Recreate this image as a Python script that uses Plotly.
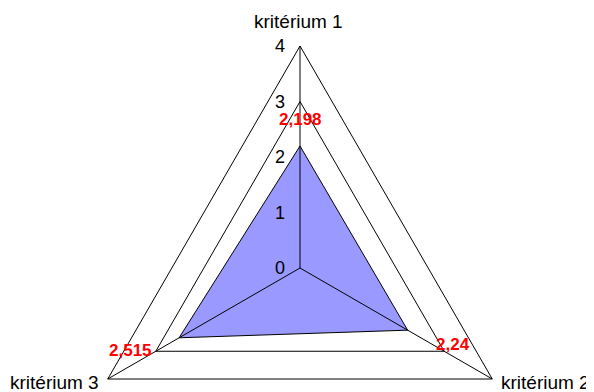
import numpy as np
import plotly.graph_objects as go

# kritériá a hodnoty
kriteria = ['kritérium 1', 'kritérium 2', 'kritérium 3']
hodnoty = [2.198, 2.24, 2.515]
popisky = ['2,198', '2,24', '2,515']
radial_ticks = [0, 1, 2, 3, 4]
grid_levels = [3, 4]

R_MAX = 4

# smer lucov: prvy hore, dalej v smere hodinovych ruciciek
uhly = np.deg2rad(90 - 360 * np.arange(len(kriteria)) / len(kriteria))


def bod(r, i):
    return r * np.cos(uhly[i]), r * np.sin(uhly[i])


def polygon(rs):
    xs, ys = [], []
    for i, r in enumerate(list(rs) + [rs[0]]):
        x, y = bod(r, i % len(kriteria))
        xs.append(x)
        ys.append(y)
    return xs, ys


fig = go.Figure()

# vyplneny trojuholnik s hodnotami
px_, py_ = polygon(hodnoty)
fig.add_trace(go.Scatter(
    x=px_, y=py_,
    fill='toself',
    fillcolor='#9999FF',
    line=dict(color='black', width=1),
    mode='lines',
    hoverinfo='skip'
))

# mriezka (trojuholniky na 3 a 4)
for g in grid_levels:
    gx, gy = polygon([g] * len(kriteria))
    fig.add_trace(go.Scatter(
        x=gx, y=gy,
        mode='lines',
        line=dict(color='black', width=1),
        hoverinfo='skip'
    ))

# luce od stredu - nad vyplnou
for i in range(len(kriteria)):
    x1, y1 = bod(R_MAX, i)
    fig.add_trace(go.Scatter(
        x=[0, x1], y=[0, y1],
        mode='lines',
        line=dict(color='black', width=1),
        hoverinfo='skip'
    ))

# popisky osi r (0..4) vlavo od zvisleho luca
for t in radial_ticks:
    fig.add_annotation(
        x=0, y=t, text=str(t), showarrow=False,
        xanchor='right', yanchor='middle', xshift=-13,
        font=dict(size=18, color='black')
    )

# nazvy kriterii
kat_pos = [
    dict(xanchor='center', yanchor='bottom', xshift=-2, yshift=12),
    dict(xanchor='left', yanchor='middle', xshift=7, yshift=-3),
    dict(xanchor='right', yanchor='middle', xshift=-7, yshift=-3),
]
for i, k in enumerate(kriteria):
    x, y = bod(R_MAX, i)
    fig.add_annotation(
        x=x, y=y, text=k, showarrow=False,
        font=dict(size=19, color='black'), **kat_pos[i]
    )

# cervene popisky hodnot
lab_shift = [(0, 27), (45, -14), (-49, -13)]
for i, (v, t) in enumerate(zip(hodnoty, popisky)):
    x, y = bod(v, i)
    fig.add_annotation(
        x=x, y=y, text='<b>' + t + '</b>', showarrow=False,
        xanchor='center', yanchor='middle',
        xshift=lab_shift[i][0], yshift=lab_shift[i][1],
        font=dict(size=17, color='#FF0000')
    )

# 55.5 px na jednotku, stred v (292, 260) - stranka ma okraj 8 px
fig.update_xaxes(range=[-292 / 55.5, 302 / 55.5], visible=False)
fig.update_yaxes(range=[-132 / 55.5, 260 / 55.5], visible=False)

fig.update_layout(
    width=594,
    height=392,
    showlegend=False,
    paper_bgcolor='white',
    plot_bgcolor='white',
    margin=dict(l=0, r=0, t=0, b=0),
    font=dict(family='Liberation Sans, Arial', color='black', size=18),
)

fig.write_html("out.html")
